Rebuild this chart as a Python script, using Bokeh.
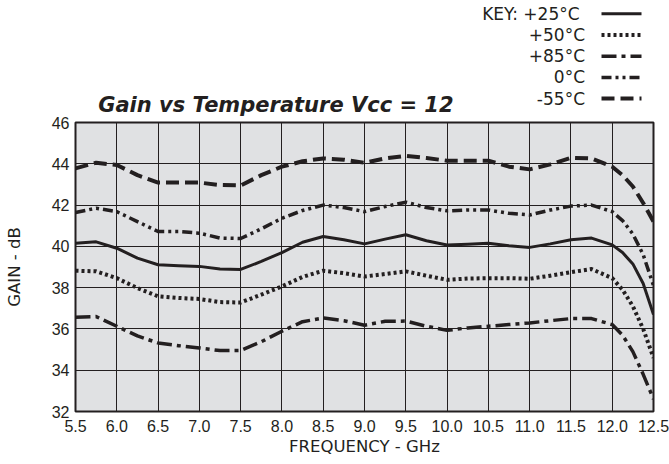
from bokeh.plotting import figure
from bokeh.layouts import column
from bokeh.models import Range1d, FixedTicker, CustomJSTickFormatter
from bokeh.core.properties import value
from bokeh.embed import file_html
from bokeh.resources import INLINE

# ---------------- data ----------------
freq = [5.5, 5.75, 6.0, 6.25, 6.5, 6.75, 7.0, 7.25, 7.5, 7.75, 8.0, 8.25, 8.5, 8.75,
        9.0, 9.25, 9.5, 9.75, 10.0, 10.25, 10.5, 10.75, 11.0, 11.25, 11.5, 11.75,
        12.0, 12.125, 12.25, 12.375, 12.5]

gain_m55 = [43.78, 44.05, 43.94, 43.45, 43.09, 43.09, 43.09, 42.97, 42.95, 43.45, 43.86,
            44.12, 44.26, 44.20, 44.05, 44.26, 44.38, 44.28, 44.15, 44.15, 44.15, 43.86,
            43.73, 43.97, 44.29, 44.26, 43.86, 43.45, 42.90, 42.10, 41.20]

gain_0 = [41.64, 41.85, 41.68, 41.20, 40.72, 40.72, 40.64, 40.40, 40.38, 40.85, 41.36,
          41.74, 42.00, 41.88, 41.68, 41.93, 42.14, 41.88, 41.72, 41.76, 41.76, 41.60,
          41.52, 41.76, 41.95, 42.00, 41.68, 41.25, 40.60, 39.60, 38.10]

gain_25 = [40.15, 40.22, 39.91, 39.43, 39.11, 39.06, 39.03, 38.90, 38.88, 39.27, 39.70,
           40.20, 40.48, 40.32, 40.12, 40.35, 40.56, 40.27, 40.07, 40.10, 40.15, 40.03,
           39.95, 40.12, 40.32, 40.40, 40.07, 39.70, 39.15, 38.20, 36.70]

gain_50 = [38.82, 38.79, 38.46, 37.98, 37.58, 37.50, 37.45, 37.30, 37.28, 37.66, 38.06,
           38.52, 38.82, 38.70, 38.54, 38.66, 38.79, 38.58, 38.38, 38.44, 38.46, 38.46,
           38.43, 38.58, 38.75, 38.90, 38.46, 37.90, 37.10, 36.00, 34.60]

gain_85 = [36.56, 36.60, 36.13, 35.66, 35.32, 35.19, 35.08, 34.95, 34.96, 35.38, 35.89,
           36.35, 36.53, 36.40, 36.18, 36.37, 36.38, 36.13, 35.93, 36.05, 36.13, 36.21,
           36.29, 36.40, 36.50, 36.50, 36.21, 35.70, 34.90, 33.80, 32.60]

x_ticks = [5.5, 6.0, 6.5, 7.0, 7.5, 8.0, 8.5, 9.0, 9.5, 10.0, 10.5, 11.0, 11.5, 12.0, 12.5]
x_tick_labels = ["5.5", "6.0", "6.5", "7.0", "7.5", "8.0", "8.5", "9.0", "9.5", "10.0",
                 "10.5", "11.0", "11.5", "12.0", "12.5"]
y_ticks = [32, 34, 36, 38, 40, 42, 44, 46]
y_tick_labels = ["32", "34", "36", "38", "40", "42", "44", "46"]

key_labels = ["KEY:  +25°C", "+50°C", "+85°C", "0°C", "-55°C"]
series = [gain_25, gain_50, gain_85, gain_0, gain_m55]

title_text = "Gain vs Temperature  Vcc = 12"
x_label = "FREQUENCY - GHz"
y_label = "GAIN - dB"

# ---------------- styles / layout ----------------
INK = "#231f20"
PLOT_BG = "#e0e1e3"
dashes = ["solid", "3 3", "15 5 4 5", "10 4 3 4 3 4", "13 6"]
widths = [3, 4, 3.5, 3.5, 4]

W = 669
BORDER_L = 75
BORDER_R = 16
FRAME_L = BORDER_L          # page x of the plot frame's left edge
FRAME_R = W - BORDER_R      # page x of the plot frame's right edge
TOP_H = 116
MAIN_H = 348

# ---------------- top (key + title), coordinates in page pixels ----------------
top = figure(width=W, height=TOP_H, x_range=Range1d(FRAME_L, FRAME_R),
             y_range=Range1d(TOP_H, 0),
             x_axis_location=None, y_axis_location=None,
             output_backend="svg", toolbar_location=None,
             min_border_left=BORDER_L, min_border_right=BORDER_R,
             min_border_top=0, min_border_bottom=0)
top.grid.visible = False
top.outline_line_color = None

row_y = [13.3 + 21.2 * i for i in range(len(key_labels))]
top.text(x=[584.5] * len(key_labels), y=row_y, text=key_labels,
         text_align="right", text_baseline="middle",
         text_font=value("DejaVu Sans"), text_font_size="17px", text_color=INK)
for i in range(len(key_labels)):
    top.line([601, 641], [row_y[i], row_y[i]], line_color=INK, line_width=widths[i],
             line_dash=dashes[i], line_cap="butt")

top.text(x=[279], y=[104.7], text=[title_text],
         text_align="center", text_baseline="middle",
         text_font=value("DejaVu Sans"), text_font_style="bold italic",
         text_font_size="21px", text_color=INK)

# ---------------- main chart ----------------
p = figure(width=W, height=MAIN_H, x_range=Range1d(5.5, 12.5), y_range=Range1d(32, 46),
           output_backend="svg", toolbar_location=None,
           min_border_left=BORDER_L, min_border_right=BORDER_R,
           min_border_top=6, min_border_bottom=53)
p.background_fill_color = PLOT_BG
p.border_fill_color = "white"
p.outline_line_color = INK
p.outline_line_width = 2

p.xaxis.ticker = FixedTicker(ticks=x_ticks)
p.yaxis.ticker = FixedTicker(ticks=y_ticks)
fmt_code = ("const k = tvals.findIndex(t => Math.abs(t - tick) < 1e-9);"
            "return k >= 0 ? tlabels[k] : '';")
p.xaxis.formatter = CustomJSTickFormatter(args=dict(tvals=x_ticks, tlabels=x_tick_labels), code=fmt_code)
p.yaxis.formatter = CustomJSTickFormatter(args=dict(tvals=y_ticks, tlabels=y_tick_labels), code=fmt_code)

for ax in (p.xaxis, p.yaxis):
    ax.axis_line_color = None
    ax.major_tick_line_color = None
    ax.minor_tick_line_color = None
    ax.major_tick_in = 0
    ax.major_tick_out = 0
    ax.major_label_text_font = "Liberation Sans"
    ax.major_label_text_font_size = "16px"
    ax.major_label_text_color = INK
    ax.axis_label_text_font = "DejaVu Sans"
    ax.axis_label_text_font_size = "16.5px"
    ax.axis_label_text_font_style = "normal"
    ax.axis_label_text_color = INK

p.xaxis.axis_label = x_label
p.yaxis.axis_label = y_label
p.xaxis.major_label_standoff = 8
p.xaxis.axis_label_standoff = 2
p.yaxis.major_label_standoff = 6
p.yaxis.axis_label_standoff = 25

p.grid.grid_line_color = INK
p.grid.grid_line_width = 1
p.grid.grid_line_alpha = 1

for ys, d, w in zip(series, dashes, widths):
    p.line(freq, ys, line_color=INK, line_width=w, line_dash=d,
           line_cap="butt", line_join="round")

layout = column(top, p, spacing=0)
open("out.html", "w").write(file_html(layout, INLINE))
